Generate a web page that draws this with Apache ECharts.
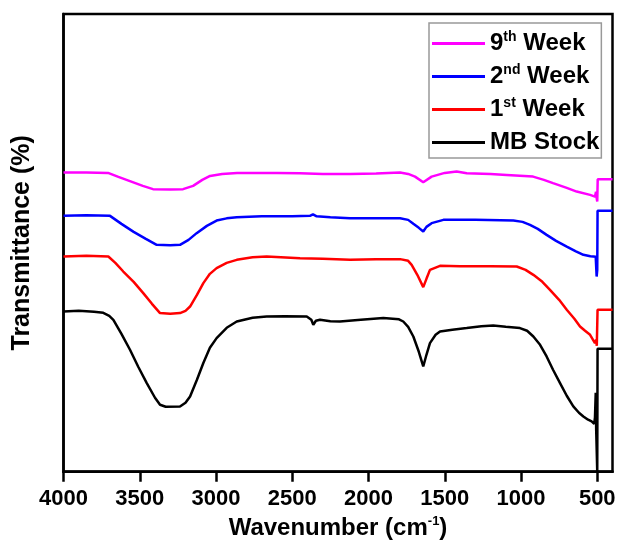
<!DOCTYPE html>
<html>
<head>
<meta charset="utf-8">
<script src="https://cdn.jsdelivr.net/npm/echarts@6/dist/echarts.min.js"></script>
<style>html,body{margin:0;padding:0;background:#fff;}#c{width:617px;height:545px;}</style>
</head>
<body>
<div id="c"></div>
<script>
// Wavenumber (cm-1) and transmittance (arbitrary offset units) per spectrum
var blackWn = [4000,3900,3800,3739,3700,3673,3620,3564,3510,3454,3400,3367,3330,3236,3200,3170,3125,3083,3040,2996,2930,2864,2760,2668,2550,2405,2375,2362,2345,2318,2250,2187,2050,1903,1800,1772,1740,1706,1670,1641,1620,1597,1560,1531,1450,1356,1260,1182,1100,1007,960,919,875,832,790,744,700,657,620,591,560,537,520,515,510,507,503,500,498,400];
var blackT  = [160.3,161,160,159,156,152,138,122,105,88.7,74,67,65,65.3,69,75.3,92,108.7,124,133.7,144,150.3,154,155.3,155.5,155.3,152,147,151,152,150.5,150.3,152,153.7,152.5,150.3,145,135.3,120,105.3,117,128.7,137,140.3,142,143.7,145.5,146.3,145,143.7,141,135.3,127,115.3,102,88.7,76,65.3,59,55.3,52,50.3,48,54,79,42,44,0,123,123];

var redWn = [4000,3850,3706,3660,3608,3540,3477,3420,3367,3300,3236,3200,3170,3125,3083,3040,2996,2930,2864,2760,2668,2449,2300,2121,1950,1793,1740,1717,1680,1641,1620,1597,1531,1400,1200,1028,970,919,860,810,750,700,650,613,580,547,515,507,503,500,498,400];
var redT  = [215.3,216,215.3,209,200.3,190,178.7,168,158.7,158,158.7,161,165.3,177,188.7,198,203.7,209,212,214.5,215.3,213.7,213,212,212.5,212.7,211,207,197,184.7,193,202,206,205.5,205.5,205.3,202,197,190,182,172,162,153,145.3,141,137,128.7,132,126,127,162,162];

var blueWn = [4000,3850,3695,3620,3540,3460,3389,3300,3236,3180,3127,3060,2996,2930,2864,2700,2500,2384,2364,2340,2250,2121,1950,1793,1740,1706,1670,1641,1620,1586,1509,1300,1050,990,941,890,832,770,700,640,591,545,526,510,504,500,498,400];
var blueT  = [256,256.5,256,248,240,233,227,226.5,227,232,238.7,246,251.3,253.5,254.7,255.5,255.5,256,257.5,255.5,254.5,253.7,253.7,253.7,252,248,244,240.3,245,248.7,252,252,251.3,250,247,243,237,231,225.3,220.5,217,215.5,215.3,215,195.3,202,261,261];

var magWn = [4000,3850,3708,3640,3560,3480,3413,3300,3216,3150,3090,3039,2960,2862,2600,2449,2300,2121,1950,1793,1740,1695,1641,1586,1500,1422,1356,1200,1094,921,850,790,700,635,547,515,508,503,500,497,400];
var magT  = [299.3,299.5,299,295,290.5,286,282.7,282.5,282.7,286,292,296,298,299,299,298.7,298,298,298.5,299.3,298,295.3,289.7,295.3,299,300.3,298.7,298,297,295.3,292,288.7,284,280.3,277,275.3,280,273,270.3,292.7,292.7];

var seriesNames = ['9th Week', '2nd Week', '1st Week', 'MB Stock'];
var legendRich = ['{a|9}{s|th}{a| Week}', '{a|2}{s|nd}{a| Week}', '{a|1}{s|st}{a| Week}', '{a|MB Stock}'];
var xTicks = [4000, 3500, 3000, 2500, 2000, 1500, 1000, 500];

function pairs(wn, t) { return wn.map(function (w, i) { return [w, t[i]]; }); }

var chart = echarts.init(document.getElementById('c'));
var FONT = '"Liberation Sans", Arial, sans-serif';
function mk(name, wn, t, color) {
  return {
    name: name, type: 'line', data: pairs(wn, t), showSymbol: false, symbol: 'none',
    lineStyle: { color: color, width: 2.5 }, itemStyle: { color: color },
    animation: false, clip: true
  };
}
chart.setOption({
  backgroundColor: '#fff',
  animation: false,
  grid: { left: 63.5, right: 4.5, top: 14, bottom: 73.3, show: true, borderColor: '#000', borderWidth: 2.5, containLabel: false, outerBoundsMode: 'none' },
  legend: {
    orient: 'vertical', left: 429, top: 23,
    padding: [7, 2, 2, 3],
    itemGap: 6, itemWidth: 53, itemHeight: 3, icon: 'rect',
    borderColor: '#999', borderWidth: 1.5,
    data: seriesNames,
    formatter: function (n) { return legendRich[seriesNames.indexOf(n)]; },
    textStyle: {
      fontFamily: FONT, fontWeight: 'bold', fontSize: 24, color: '#000', lineHeight: 27,
      rich: {
        a: { fontFamily: FONT, fontWeight: 'bold', fontSize: 24, color: '#000', lineHeight: 27 },
        s: { fontFamily: FONT, fontWeight: 'bold', fontSize: 14, color: '#000', verticalAlign: 'top', lineHeight: 27, padding: [0, 0, 9, 0] }
      }
    }
  },
  xAxis: {
    type: 'value', inverse: true, min: 400, max: 4000,
    splitLine: { show: false },
    axisLine: { show: true, onZero: false, lineStyle: { color: '#000', width: 2.5 } },
    axisTick: { show: true, inside: false, length: 10, lineStyle: { color: '#000', width: 2.5 }, customValues: xTicks },
    axisLabel: { customValues: xTicks, margin: 16, fontFamily: FONT, fontWeight: 'bold', fontSize: 22, color: '#000',
      formatter: function (v) { return String(v); } },
    name: '{a|Wavenumber (cm}{s|-1}{a|)}',
    nameLocation: 'middle', nameGap: 42,
    nameTextStyle: {
      rich: {
        a: { fontFamily: FONT, fontWeight: 'bold', fontSize: 24, color: '#000', lineHeight: 28 },
        s: { fontFamily: FONT, fontWeight: 'bold', fontSize: 13, color: '#000', verticalAlign: 'top', lineHeight: 28, padding: [0, 0, 10, 0] }
      }
    }
  },
  yAxis: {
    type: 'value', min: 0, max: 458,
    splitLine: { show: false },
    axisLine: { show: true, lineStyle: { color: '#000', width: 2.5 } },
    axisTick: { show: false }, axisLabel: { show: false },
    name: 'Transmittance (%)', nameLocation: 'middle', nameRotate: 90, nameGap: 29,
    nameTextStyle: { fontFamily: FONT, fontWeight: 'bold', fontSize: 25, color: '#000' }
  },
  series: [
    mk('MB Stock', blackWn, blackT, '#000000'),
    mk('1st Week', redWn, redT, '#ff0000'),
    mk('2nd Week', blueWn, blueT, '#0000ff'),
    mk('9th Week', magWn, magT, '#ff00ff')
  ]
});
</script>
</body>
</html>
